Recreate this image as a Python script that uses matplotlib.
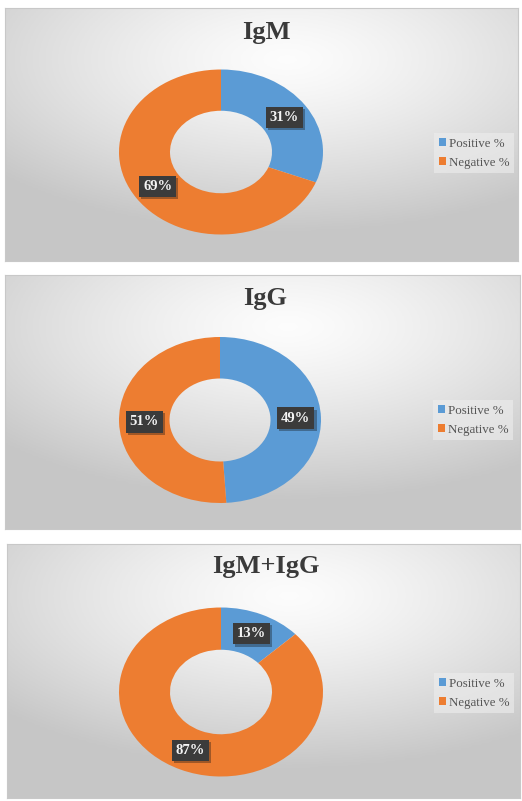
import numpy as np
import matplotlib
matplotlib.use("Agg")
import matplotlib.pyplot as plt
import matplotlib.patheffects as pe

# data
titles = ["IgM", "IgG", "IgM+IgG"]
series_labels = ["Positive %", "Negative %"]
positive = [31, 49, 13]
negative = [69, 51, 87]

colors = ["#5B9BD5", "#ED7D31"]
W, H = 522, 801

# panel boxes in pixels: left, top, right, bottom
panels = [(5, 8, 518, 261), (5, 275, 520, 529), (7, 544, 520, 798)]
# donut centre and radii in pixels
donuts = [(221, 152, 102, 82.5), (220, 420, 101, 83), (221, 692, 102, 84.5)]
title_xy = [(266, 32), (265, 298), (266, 567)]
legend_xy = [(434, 133), (433, 400), (434, 673)]

plt.rcParams["font.family"] = ["Liberation Serif", "DejaVu Serif"]


def fig_rect(left, top, right, bottom):
    return [left / W, 1 - bottom / H, (right - left) / W, (bottom - top) / H]


def gradient(nx=200, ny=100):
    xs = np.linspace(0, 1, nx)
    ys = np.linspace(0, 1, ny)
    gx, gy = np.meshgrid(xs, ys)
    # light spot near the top middle, greyer towards the corners
    d = np.sqrt(((gx - 0.55) * 1.0) ** 2 + ((gy - 0.2) * 1.1) ** 2)
    d = np.clip(d / 0.75, 0, 1)
    return 0.99 - 0.21 * d ** 1.3


fig = plt.figure(figsize=(W / 100, H / 100), dpi=100)
fig.patch.set_facecolor("white")

for i in range(3):
    bg = fig.add_axes(fig_rect(*panels[i]))
    g = gradient()
    bg.imshow(np.dstack([g, g, g]), extent=[0, 1, 0, 1], aspect="auto", origin="upper")
    bg.set_xticks([])
    bg.set_yticks([])
    for sp in bg.spines.values():
        sp.set_color("#c8c8c8")
        sp.set_linewidth(0.8)

    cx, cy, rx, ry = donuts[i]
    m = 1.3
    ax = fig.add_axes(fig_rect(cx - m * rx, cy - m * ry, cx + m * rx, cy + m * ry))
    ax.patch.set_alpha(0)
    wedges, texts, autotexts = ax.pie(
        [positive[i], negative[i]],
        colors=colors,
        startangle=90,
        counterclock=False,
        radius=1,
        pctdistance=0.75,
        autopct=lambda p: f"{p:.0f}%",
        wedgeprops=dict(width=0.5, edgecolor="none"),
        textprops=dict(color="#f4f4f4", fontsize=10.5, fontweight="bold"),
    )
    ax.set_aspect("auto")
    ax.set_xlim(-m, m)
    ax.set_ylim(-m, m)
    ax.axis("off")

    for t in autotexts:
        t.set_bbox(dict(boxstyle="square,pad=0.28", fc="#3b3b3b", ec="none"))
        t.get_bbox_patch().set_path_effects(
            [pe.SimplePatchShadow(offset=(1.5, -1.5), alpha=0.35), pe.Normal()]
        )

    tx, ty = title_xy[i]
    fig.text(
        tx / W,
        1 - ty / H,
        titles[i],
        ha="center",
        va="center",
        fontsize=19,
        fontweight="bold",
        color="#3a3a3a",
    )

    lx, ly = legend_xy[i]
    leg = ax.legend(
        wedges,
        series_labels,
        loc="upper left",
        bbox_to_anchor=(lx / W, 1 - ly / H),
        bbox_transform=fig.transFigure,
        fontsize=9.3,
        frameon=True,
        fancybox=False,
        handlelength=0.55,
        handleheight=0.55,
        handletextpad=0.25,
        labelspacing=0.55,
        borderpad=0.35,
        borderaxespad=0,
    )
    leg.get_frame().set_facecolor("#eeeeee")
    leg.get_frame().set_alpha(0.6)
    leg.get_frame().set_edgecolor("none")
    for t in leg.get_texts():
        t.set_color("#555555")

fig.savefig("out.png", dpi=100)
